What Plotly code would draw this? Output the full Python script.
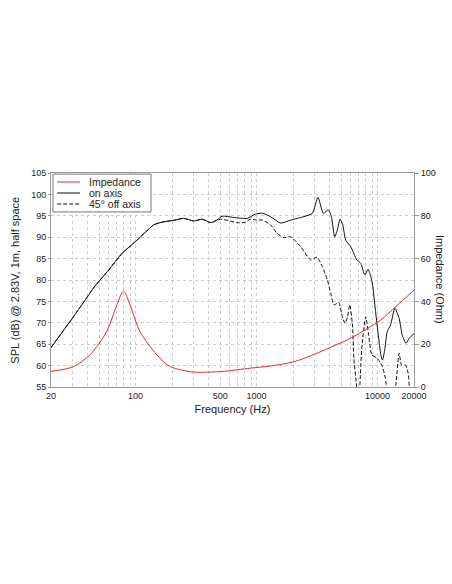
import plotly.graph_objects as go

# frequency response (Hz / dB)
on_freq = [20, 30.6, 37, 46.2, 59.8, 77.2, 99, 120, 141.5, 165, 213, 248, 303, 355, 420, 470, 519, 650,
           836, 980, 1115, 1304, 1578, 1910, 2462, 2890, 3216, 3565, 3920, 4150, 4423, 4656, 4894, 5152,
           5456, 6000, 6730, 7260, 7840, 8345, 8790, 9100, 9630, 10140, 10640, 10980, 11500, 12000,
           12800, 13900, 15080, 16000, 17200, 18260, 20000]
on_spl = [64.2, 71.4, 74.7, 78.6, 82.3, 86.2, 88.9, 91.1, 92.9, 93.5, 94.0, 94.4, 93.8, 94.2, 93.4, 94.0,
          94.9, 94.6, 94.4, 95.4, 95.6, 94.8, 93.3, 94.0, 94.8, 95.6, 99.3, 95.6, 96.4, 94.8, 90.1, 91.7,
          94.2, 92.9, 89.3, 87.8, 84.7, 83.9, 81.2, 82.5, 80.8, 78.8, 72.6, 67.1, 62.5, 61.3, 64.0, 67.9,
          69.5, 73.4, 71.0, 67.1, 65.2, 66.4, 67.5]

off_freq = [20, 30.6, 37, 46.2, 59.8, 77.2, 99, 120, 141.5, 165, 213, 248, 303, 355, 420, 470, 519, 692,
            810, 885, 1005, 1115, 1304, 1480, 1680, 1910, 2312, 2800, 3160, 3500, 3850, 4100, 4360, 4656,
            4800, 5070, 5380, 5640, 5890, 6200, 6370, 6670, 6800, 6950, 7140, 7400, 7980, 8440, 8980,
            9980, 10980, 11600, 11900, 12600, 13400, 14160, 15080, 15800, 17000, 17900, 18300, 18700]
off_spl = [64.2, 71.4, 74.7, 78.6, 82.3, 86.2, 88.9, 91.1, 92.9, 93.5, 94.0, 94.4, 93.8, 94.2, 93.4, 94.0,
           94.2, 93.4, 93.5, 94.2, 94.0, 94.0, 92.9, 90.9, 89.9, 90.1, 87.8, 84.7, 85.3, 83.1, 80.0, 76.9,
           74.2, 74.6, 74.7, 71.8, 69.9, 71.4, 74.2, 69.5, 61.7, 55.9, 53.0, 53.0, 55.5, 64.0, 71.4,
           67.1, 62.5, 61.7, 59.7, 57.0, 54.5, 50.0, 50.0, 55.5, 62.9, 60.1, 60.1, 58.2, 55.0, 50.0]

# impedance (Hz / Ohm)
imp_freq = [20, 30.6, 42, 57.5, 70, 79.4, 90, 109, 150, 194, 300, 420, 553, 885, 1304, 2034, 3160,
            4360, 6000, 8260, 10640, 14160, 20000]
imp_ohm = [7.3, 9.5, 15.0, 25.8, 38.3, 44.8, 38.3, 25.8, 15.0, 9.5, 7.0, 7.0, 7.4, 8.8, 9.8, 11.8, 15.8,
           19.2, 22.8, 27.4, 31.3, 37.6, 45.3]

x_ticks = [20, 100, 500, 1000, 10000, 20000]
x_minor = [30, 40, 50, 60, 70, 80, 90, 200, 300, 400, 600, 700, 800, 900,
           2000, 3000, 4000, 5000, 6000, 7000, 8000, 9000]
spl_ticks = [55, 60, 65, 70, 75, 80, 85, 90, 95, 100, 105]
imp_ticks = [0, 20, 40, 60, 80, 100]

FONT = "Liberation Sans, Arial, sans-serif"
GRID = "#cdcdcd"
AXIS = "#9a9a9a"
RED = '#ee2a24'
BLACK = '#111111'

fig = go.Figure()

fig.add_trace(go.Scatter(x=imp_freq, y=imp_ohm, mode='lines', name='Impedance', yaxis='y2',
                         line=dict(color=RED, width=1, shape='spline', smoothing=0.8)))
fig.add_trace(go.Scatter(x=on_freq, y=on_spl, mode='lines', name='on axis',
                         line=dict(color=BLACK, width=1, shape='spline', smoothing=0.6)))
fig.add_trace(go.Scatter(x=off_freq, y=off_spl, mode='lines', name='45° off axis',
                         line=dict(color=BLACK, width=1, dash='4px,2px', shape='spline', smoothing=0.6)))

# compact legend box drawn by hand (plotly's own legend rows are too tall)
legend_items = [('Impedance', RED, 'solid'), ('on axis', '#444444', 'solid'), ('45° off axis', BLACK, '4px,2px')]
shapes = [dict(type='rect', xref='paper', yref='paper', x0=0.0055, x1=0.2755, y0=0.818, y1=0.995,
               line=dict(color='#777777', width=1), fillcolor='white', layer='above')]
annotations = []
for i, (label, color, dash) in enumerate(legend_items):
    yy = 0.958 - i * 0.0515
    shapes.append(dict(type='line', xref='paper', yref='paper', x0=0.017, x1=0.080, y0=yy, y1=yy,
                       line=dict(color=color, width=1.3 if i == 1 else 1, dash=dash), layer='above'))
    annotations.append(dict(text=label, xref='paper', yref='paper', x=0.1, y=yy, xanchor='left',
                            yanchor='middle', showarrow=False, font=dict(size=10.5, color='#222222')))

annotations += [
    dict(text='SPL (dB) @ 2.83V, 1m, half space', xref='paper', yref='paper', x=-0.1, y=0.5,
         textangle=-90, showarrow=False, font=dict(size=11), xanchor='center', yanchor='middle'),
    dict(text='Impedance (Ohm)', xref='paper', yref='paper', x=1.0716, y=0.5,
         textangle=90, showarrow=False, font=dict(size=11), xanchor='center', yanchor='middle'),
]

fig.update_layout(
    width=452, height=584,
    margin=dict(l=43, r=46, t=165, b=205),
    paper_bgcolor='white', plot_bgcolor='white',
    font=dict(family=FONT, color='#222222', size=9),
    showlegend=False,
    shapes=shapes,
    annotations=annotations,
    xaxis=dict(type='log', range=[1.30103, 4.30103], tickmode='array', tickvals=x_ticks,
               ticktext=[str(v) for v in x_ticks], showgrid=True, gridcolor=GRID, griddash='dot',
               gridwidth=1, showline=True, linecolor=AXIS, linewidth=1, mirror=True,
               ticks='', zeroline=False,
               minor=dict(tickmode='array', tickvals=x_minor, showgrid=True, gridcolor=GRID,
                          griddash='dot', gridwidth=1, ticks=''),
               title=dict(text='Frequency (Hz)', font=dict(size=11), standoff=5)),
    yaxis=dict(range=[55, 105], tickmode='array', tickvals=spl_ticks, showgrid=True,
               gridcolor=GRID, griddash='dot', gridwidth=1, showline=True, linecolor=AXIS,
               linewidth=1, mirror=True, ticks='outside', ticklen=2, tickcolor=AXIS, zeroline=False),
    yaxis2=dict(range=[0, 100], overlaying='y', side='right', tickmode='array', tickvals=imp_ticks,
                showgrid=False, showline=False, ticks='outside', ticklen=4, tickcolor=AXIS,
                zeroline=False),
)

fig.write_html("out.html")
